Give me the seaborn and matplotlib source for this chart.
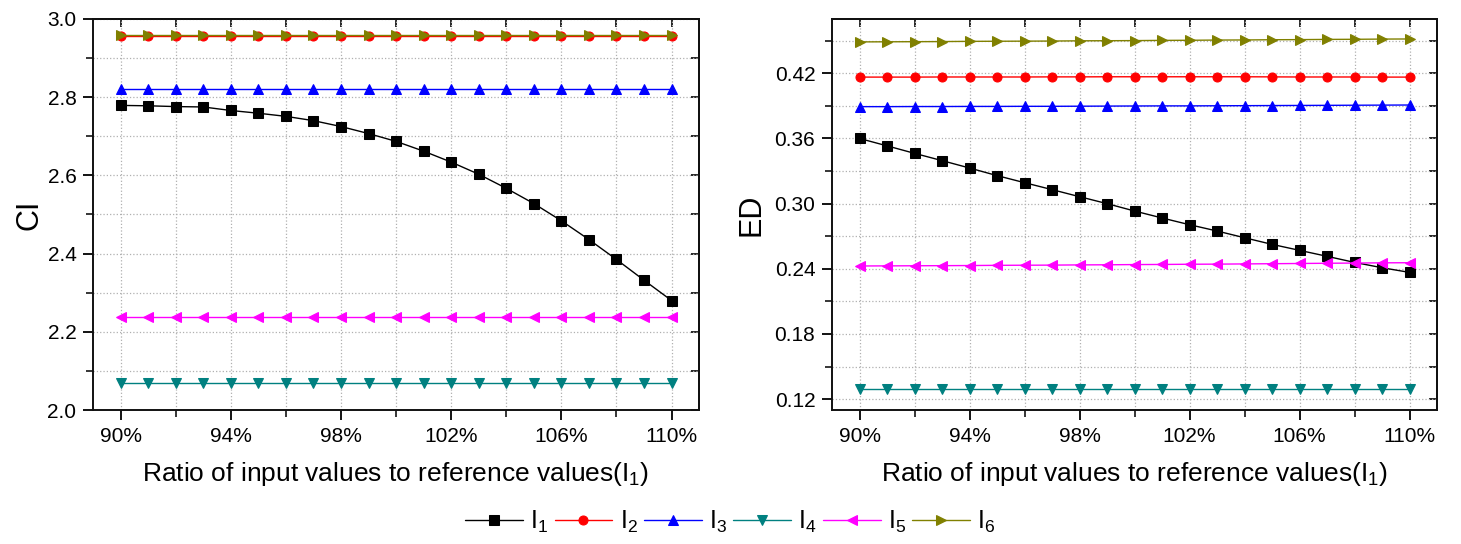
import numpy as np
import pandas as pd
import matplotlib.pyplot as plt
import seaborn as sns
from matplotlib.ticker import MultipleLocator, FixedLocator, FuncFormatter, NullFormatter

# x values: ratio of input values to reference values (%)
ratio = list(range(90, 111))
xticks_major = [90, 94, 98, 102, 106, 110]

# CI panel
ci_I1 = [2.779, 2.778, 2.776, 2.775, 2.766, 2.759, 2.751, 2.740, 2.725, 2.707, 2.687,
         2.662, 2.634, 2.603, 2.567, 2.528, 2.484, 2.436, 2.385, 2.332, 2.280]
ci_I2 = [2.957] * 21
ci_I3 = [2.821] * 21
ci_I4 = [2.069] * 21
ci_I5 = [2.238] * 21
ci_I6 = [2.958] * 21

# ED panel
ed_I1 = [0.3600, 0.3532, 0.3463, 0.3396, 0.3328, 0.3258, 0.3193, 0.3129, 0.3064, 0.3000, 0.2932,
         0.2868, 0.2806, 0.2748, 0.2686, 0.2625, 0.2570, 0.2515, 0.2459, 0.2410, 0.2367]
ed_I2 = [0.4165, 0.4165, 0.4165, 0.4166, 0.4166, 0.4166, 0.4166, 0.4167, 0.4167, 0.4168, 0.4168,
         0.4168, 0.4168, 0.4168, 0.4168, 0.4167, 0.4166, 0.4166, 0.4166, 0.4165, 0.4165]
ed_I3 = [0.3893, 0.3893, 0.3894, 0.3894, 0.3895, 0.3895, 0.3896, 0.3896, 0.3897, 0.3898, 0.3899,
         0.3900, 0.3900, 0.3901, 0.3902, 0.3903, 0.3904, 0.3905, 0.3906, 0.3907, 0.3908]
ed_I4 = [0.1290] * 21
ed_I5 = [0.2426, 0.2427, 0.2428, 0.2429, 0.2430, 0.2432, 0.2433, 0.2434, 0.2436, 0.2437, 0.2439,
         0.2440, 0.2442, 0.2443, 0.2445, 0.2447, 0.2449, 0.2451, 0.2453, 0.2455, 0.2456]
ed_I6 = [0.4489, 0.4490, 0.4491, 0.4492, 0.4494, 0.4495, 0.4496, 0.4497, 0.4499, 0.4500, 0.4501,
         0.4503, 0.4504, 0.4506, 0.4507, 0.4509, 0.4510, 0.4512, 0.4513, 0.4515, 0.4516]

names = ["I1", "I2", "I3", "I4", "I5", "I6"]
colors = ["#000000", "#ff0000", "#0000ff", "#008080", "#ff00ff", "#808000"]
markers = ["s", "o", "^", "v", "<", ">"]

sns.set_style("ticks")
plt.rcParams['font.family'] = ['Liberation Sans', 'DejaVu Sans']
plt.rcParams['mathtext.fontset'] = 'custom'
plt.rcParams['mathtext.rm'] = 'Liberation Sans'
plt.rcParams['text.color'] = 'black'
plt.rcParams['axes.labelcolor'] = 'black'
plt.rcParams['xtick.color'] = 'black'
plt.rcParams['ytick.color'] = 'black'

fig = plt.figure(figsize=(14.61, 5.44), dpi=100)
ax1 = fig.add_axes([0.0637, 0.2463, 0.4148, 0.7188])
ax2 = fig.add_axes([0.5695, 0.2463, 0.4141, 0.7188])


def draw_panel(ax, series, ylabel, ylim, ymajor, yfmt, ypad):
    for name, vals, c, m in zip(names, series, colors, markers):
        sns.lineplot(x=ratio, y=vals, ax=ax, color=c, marker=m, markersize=6.5,
                     markeredgecolor=c, linewidth=1, label=name, legend=False)
    ax.set_xlim(89, 111)
    ax.set_ylim(*ylim)
    ax.xaxis.set_major_locator(FixedLocator(xticks_major))
    ax.xaxis.set_minor_locator(MultipleLocator(2))
    ax.yaxis.set_major_locator(MultipleLocator(ymajor))
    ax.yaxis.set_minor_locator(MultipleLocator(ymajor / 2))
    ax.xaxis.set_major_formatter(FuncFormatter(lambda v, p: f"{v:.0f}%"))
    ax.yaxis.set_major_formatter(FuncFormatter(lambda v, p: format(v, yfmt)))
    ax.grid(True, which='both', linestyle=':', color='#b0b0b0', linewidth=0.9)
    ax.tick_params(which='major', direction='out', length=7, width=1.3, labelsize=15,
                   pad=5)
    ax.tick_params(which='minor', direction='out', length=5, width=1.1)

    # mirrored ticks pointing inward on top and right
    top = ax.secondary_xaxis('top')
    top.xaxis.set_major_locator(MultipleLocator(2))
    top.xaxis.set_major_formatter(NullFormatter())
    top.tick_params(direction='in', length=6, width=1.2)
    right = ax.secondary_yaxis('right')
    right.yaxis.set_major_locator(MultipleLocator(ymajor / 2))
    right.yaxis.set_major_formatter(NullFormatter())
    right.tick_params(direction='in', length=6, width=1.2)
    for s in list(ax.spines.values()) + [top.spines['top'], right.spines['right']]:
        s.set_linewidth(1.4)
        s.set_color('#111111')

    ax.set_ylabel(ylabel, fontsize=22, labelpad=ypad)
    ax.set_xlabel(r"Ratio of input values to reference values($\mathregular{I_1}$)",
                  fontsize=19, labelpad=10)


draw_panel(ax1, [ci_I1, ci_I2, ci_I3, ci_I4, ci_I5, ci_I6], "CI", (2.0, 3.0), 0.2, ".1f", 2)
draw_panel(ax2, [ed_I1, ed_I2, ed_I3, ed_I4, ed_I5, ed_I6], "ED", (0.11, 0.47), 0.06, ".2f", 6)

handles, _ = ax1.get_legend_handles_labels()
labels = [r"$\mathregular{I_%d}$" % (i + 1) for i in range(6)]
fig.legend(handles, labels, loc='lower center', bbox_to_anchor=(0.5, -0.025), ncol=6,
           frameon=False, fontsize=18, handlelength=2.3, handletextpad=0.3,
           columnspacing=0.25)

fig.savefig("out.png", dpi=100)
